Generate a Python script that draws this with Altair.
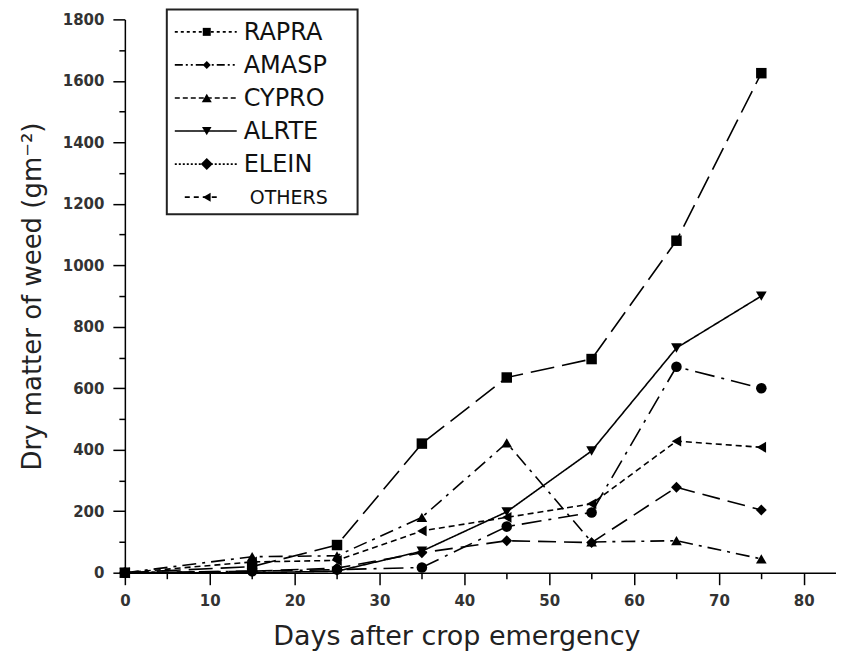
import altair as alt
import pandas as pd

# ---- data ----
days = [0, 15, 25, 35, 45, 55, 65, 75]
series_names = ["RAPRA", "AMASP", "CYPRO", "ALRTE", "ELEIN", "OTHERS"]
rapra = [0, 20, 90, 420, 635, 695, 1080, 1625]
amasp = [0, 5, 10, 17, 150, 196, 670, 600]
cypro = [0, 52, 55, 180, 422, 100, 104, 45]
alrte = [0, 0, 5, 70, 198, 396, 731, 900]
elein = [0, 5, 15, 65, 104, 98, 278, 204]
others = [0, 35, 40, 136, 180, 224, 428, 408]
y_ticks = list(range(0, 1801, 100))
x_ticks = list(range(0, 81, 5))

values = dict(zip(series_names, [rapra, amasp, cypro, alrte, elein, others]))
rows = []
for name in series_names:
    for d, v in zip(days, values[name]):
        rows.append({"series": name, "day": d, "dm": v})
df = pd.DataFrame(rows)

# ---- styles ----
FONT = "DejaVu Sans"
chart_shapes = ["square", "circle", "triangle-up", "triangle-down", "diamond", "triangle-left"]
chart_sizes = [110, 120, 160, 160, 160, 140]
chart_dashes = [[24, 8], [20, 7, 3, 7], [14, 6, 3, 6], [1, 0], [18, 8], [6, 4]]

legend_shapes = ["square", "diamond", "triangle-up", "triangle-down", "diamond", "triangle-left"]
legend_sizes = [64, 64, 100, 90, 144, 81]
legend_dashes = [[3, 3], [8, 3, 2, 3, 2, 3], [5, 3], [1, 0], [2, 2], [5, 4]]

x_enc = alt.X(
    "day:Q",
    scale=alt.Scale(domain=[0, 83.8], nice=False, zero=False),
    axis=alt.Axis(
        values=x_ticks,
        format="d",
        labelExpr="datum.value % 10 === 0 ? datum.label : ''",
        tickSize={"condition": {"test": "datum.value % 10 === 0", "value": 12}, "value": 6},
        title="Days after crop emergency",
        grid=False,
        domainColor="black",
        tickColor="black",
        domainWidth=1.5,
        tickWidth=1.5,
        labelFont=FONT,
        labelFontSize=15,
        labelFontWeight="bold",
        labelColor="#333",
        labelFlush=False,
        labelPadding=9,
        titleFont=FONT,
        titleFontSize=27,
        titleFontWeight="normal",
        titleColor="#222",
        titleX=332,
        titleY=64,
        titleBaseline="middle",
        titleAlign="center",
    ),
)
y_enc = alt.Y(
    "dm:Q",
    scale=alt.Scale(domain=[0, 1800], nice=False),
    axis=alt.Axis(
        values=y_ticks,
        format="d",
        labelExpr="datum.value % 200 === 0 ? datum.label : ''",
        tickSize={"condition": {"test": "datum.value % 200 === 0", "value": 12}, "value": 6},
        title="Dry matter of weed (gm⁻²)",
        grid=False,
        domainColor="black",
        tickColor="black",
        domainWidth=1.5,
        tickWidth=1.5,
        labelFont=FONT,
        labelFontSize=15,
        labelFontWeight="bold",
        labelColor="#333",
        labelPadding=9,
        titleFont=FONT,
        titleFontSize=26,
        titleFontWeight="normal",
        titleColor="#222",
        titleX=-92,
        titleY=277,
        titleAngle=270,
        titleBaseline="middle",
        titleAlign="center",
    ),
)

lines = alt.Chart(df).mark_line(color="black", strokeWidth=1.6).encode(
    x=x_enc,
    y=y_enc,
    strokeDash=alt.StrokeDash(
        "series:N", scale=alt.Scale(domain=series_names, range=chart_dashes), legend=None
    ),
)
points = alt.Chart(df).mark_point(filled=True, color="black", opacity=1).encode(
    x=x_enc,
    y=y_enc,
    shape=alt.Shape("series:N", scale=alt.Scale(domain=series_names, range=chart_shapes), legend=None),
    size=alt.Size("series:N", scale=alt.Scale(domain=series_names, range=chart_sizes), legend=None),
)

# ---- hand-drawn legend box ----
layers = [lines, points]
box = alt.Chart(pd.DataFrame({"series": ["box"]})).mark_rect(
    fill="white", stroke="#222", strokeWidth=2
).encode(x=alt.value(42), x2=alt.value(233), y=alt.value(-10), y2=alt.value(195))
layers.append(box)

row_y = [12.5, 45.6, 78.7, 111.8, 144.9, 178]
for i, name in enumerate(series_names):
    one = pd.DataFrame({"series": [name]})
    is_other = name == "OTHERS"
    lx0, lx1 = (60, 92) if is_other else (50, 112)
    layers.append(
        alt.Chart(one).mark_rule(color="black", strokeWidth=1.6, strokeDash=legend_dashes[i]).encode(
            x=alt.value(lx0), x2=alt.value(lx1), y=alt.value(row_y[i])
        )
    )
    layers.append(
        alt.Chart(one).mark_point(
            filled=True, color="black", opacity=1, shape=legend_shapes[i], size=legend_sizes[i]
        ).encode(x=alt.value(82), y=alt.value(row_y[i]))
    )
    layers.append(
        alt.Chart(one).mark_text(
            align="left", baseline="middle", font=FONT,
            fontSize=19 if is_other else 24, color="#111"
        ).encode(x=alt.value(125 if is_other else 119), y=alt.value(row_y[i] + 1), text="series:N")
    )

chart = (
    alt.layer(*layers)
    .properties(
        width=712,
        height=554,
        autosize=alt.AutoSizeParams(type="none"),
        padding={"left": 117, "top": 11, "right": 0, "bottom": 80},
        background="white",
    )
    .configure_view(stroke=None)
)

chart.save("out.html", embed_options={"renderer": "svg", "actions": False})
